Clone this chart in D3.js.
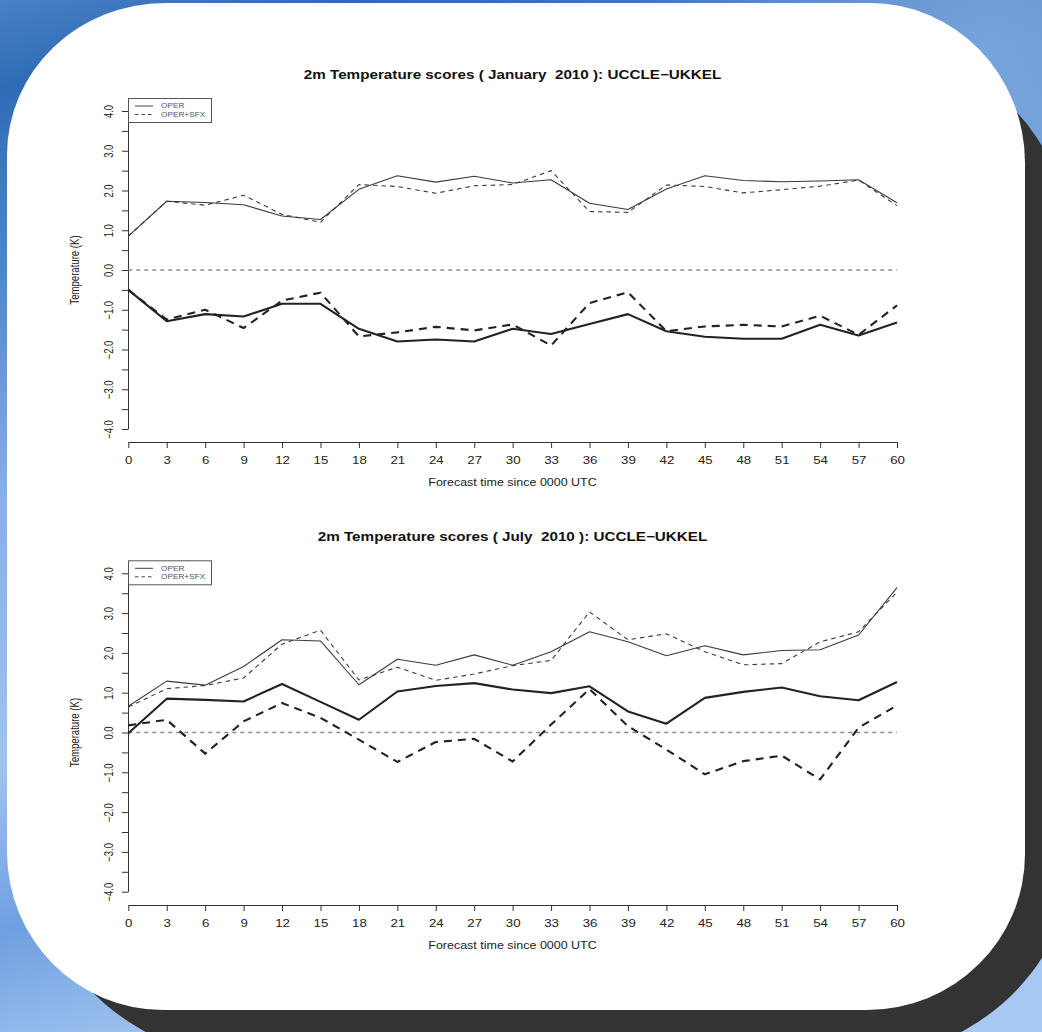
<!DOCTYPE html>
<html><head><meta charset="utf-8">
<script src="https://cdn.jsdelivr.net/npm/d3@7"></script>
<style>
html,body{margin:0;padding:0;background:#5d8fd0;overflow:hidden;}
svg{display:block;}
text{font-family:"Liberation Sans",Arial,Helvetica,sans-serif;}
</style>
</head><body>
<svg id="c" width="1042" height="1032"></svg>
<script>
// ---------------- data ----------------
const hours = [0,3,6,9,12,15,18,21,24,27,30,33,36,39,42,45,48,51,54,57,60];
const yTickValues = [-4,-3.5,-3,-2.5,-2,-1.5,-1,-0.5,0,0.5,1,1.5,2,2.5,3,3.5,4];
const seriesNames = ["OPER","OPER+SFX"];
const titles = ["2m Temperature scores ( January  2010 ): UCCLE\u2212UKKEL",
                "2m Temperature scores ( July  2010 ): UCCLE\u2212UKKEL"];
const xAxisTitle = "Forecast time since 0000 UTC";
const yAxisTitle = "Temperature (K)";

// January 2010 – upper (RMSE-like) curves
const janOperUpper = [0.85,1.73,1.70,1.64,1.36,1.27,2.03,2.37,2.21,2.36,2.19,2.27,1.68,1.52,2.04,2.37,2.25,2.22,2.24,2.27,1.69];
const janSfxUpper  = [0.85,1.73,1.63,1.88,1.40,1.20,2.15,2.10,1.93,2.12,2.15,2.50,1.47,1.45,2.14,2.10,1.94,2.02,2.11,2.26,1.62];
// January 2010 – lower (bias) curves
const janOperLower = [-0.50,-1.29,-1.11,-1.17,-0.85,-0.85,-1.48,-1.80,-1.75,-1.80,-1.48,-1.61,-1.36,-1.11,-1.54,-1.68,-1.73,-1.73,-1.38,-1.65,-1.32];
const janSfxLower  = [-0.50,-1.25,-1.00,-1.46,-0.77,-0.57,-1.67,-1.57,-1.43,-1.52,-1.37,-1.90,-0.83,-0.56,-1.54,-1.42,-1.38,-1.42,-1.15,-1.63,-0.89];

// July 2010
const julOperUpper = [0.66,1.29,1.19,1.66,2.33,2.30,1.20,1.84,1.69,1.95,1.69,2.03,2.53,2.28,1.93,2.18,1.95,2.06,2.08,2.45,3.64];
const julSfxUpper  = [0.64,1.10,1.18,1.37,2.22,2.57,1.32,1.64,1.31,1.47,1.68,1.81,3.03,2.33,2.48,2.03,1.70,1.73,2.28,2.53,3.53];
const julOperLower = [-0.02,0.85,0.82,0.78,1.22,0.77,0.32,1.03,1.17,1.24,1.08,0.99,1.16,0.53,0.22,0.87,1.02,1.13,0.91,0.81,1.27];
const julSfxLower  = [0.18,0.32,-0.53,0.28,0.74,0.37,-0.18,-0.74,-0.24,-0.16,-0.73,0.20,1.09,0.16,-0.43,-1.05,-0.72,-0.58,-1.18,0.12,0.68];

// ---------------- drawing ----------------
const svg = d3.select("#c");
const W = 1042, H = 1032;
const SX = 1.25; // horizontal text stretch of the original picture

// background
const defs = svg.append("defs");
const bg = defs.append("linearGradient").attr("id","bg").attr("x1",0).attr("y1",0).attr("x2",0.25).attr("y2",1);
[["0%","#4a80c6"],["8%","#2f6cb6"],["25%","#4f86cc"],["45%","#86b0e6"],["70%","#9ec3f0"],["85%","#6f9fe0"],["100%","#a6c8f2"]]
  .forEach(([o,c]) => bg.append("stop").attr("offset",o).attr("stop-color",c));
const rg = defs.append("radialGradient").attr("id","rg").attr("cx",0.95).attr("cy",0.05).attr("r",0.35);
rg.append("stop").attr("offset","0%").attr("stop-color","#7aa6dc").attr("stop-opacity",0.9);
rg.append("stop").attr("offset","100%").attr("stop-color","#7aa6dc").attr("stop-opacity",0);
svg.append("rect").attr("width",W).attr("height",H).attr("fill","url(#bg)");
svg.append("rect").attr("width",W).attr("height",H).attr("fill","url(#rg)");

function roundedPath(x0,y0,x1,y1,tl,tr,br,bl){
  return `M${x0+tl[0]},${y0} L${x1-tr[0]},${y0} A${tr[0]},${tr[1]} 0 0 1 ${x1},${y0+tr[1]}`+
         ` L${x1},${y1-br[1]} A${br[0]},${br[1]} 0 0 1 ${x1-br[0]},${y1}`+
         ` L${x0+bl[0]},${y1} A${bl[0]},${bl[1]} 0 0 1 ${x0},${y1-bl[1]}`+
         ` L${x0},${y0+tl[1]} A${tl[0]},${tl[1]} 0 0 1 ${x0+tl[0]},${y0} Z`;
}
// shadow
svg.append("path")
  .attr("d", roundedPath(37,48,1070,1062,[200,200],[200,200],[230,200],[230,200]))
  .attr("fill","#333333");
// white card
svg.append("path")
  .attr("d", roundedPath(7,3,1025,1010,[158,152],[155,160],[158,156],[156,158]))
  .attr("fill","#ffffff");

const x = d3.scaleLinear().domain([0,60]).range([128.3,897]);
const fmt = d => (d < 0 ? "\u2212" : "") + Math.abs(d).toFixed(1);

function panel(cfg){
  const y = d3.scaleLinear().domain([-4,4]).range([cfg.yBottom, cfg.yTop]);
  const g = svg.append("g");

  // title
  g.append("text")
    .attr("transform",`translate(512.5,${cfg.yTop-32}) scale(${SX},1)`)
    .attr("text-anchor","middle").attr("font-weight","bold").attr("font-size",12.2)
    .attr("fill","#111").style("white-space","pre").text(cfg.title);

  // y axis
  const ya = g.append("g").attr("transform","translate(128,0)")
    .call(d3.axisLeft(y).tickValues(yTickValues).tickSize(6).tickSizeOuter(0)
      .tickFormat(d => Number.isInteger(d) ? fmt(d) : ""));
  ya.selectAll(".domain, line").attr("stroke","#333");
  ya.selectAll("text").attr("x",0).attr("dy",0).attr("text-anchor","middle")
    .attr("font-size",9.5).attr("fill","#222")
    .attr("transform",`translate(-15,0) scale(${SX},1) rotate(-90)`);

  // x axis
  const xa = g.append("g").attr("transform",`translate(0,${cfg.xAxisY})`)
    .call(d3.axisBottom(x).tickValues(hours).tickSize(6).tickSizeOuter(0).tickPadding(8)
      .tickFormat(d => String(d)));
  xa.selectAll(".domain, line").attr("stroke","#333");
  xa.selectAll("text").attr("font-size",10.6).attr("fill","#222")
    .attr("transform",`scale(${SX},1)`);

  // axis titles
  g.append("text")
    .attr("transform",`translate(512.5,${cfg.xAxisY+44}) scale(${SX},1)`)
    .attr("text-anchor","middle").attr("font-size",10).attr("fill","#222").text(xAxisTitle);
  g.append("text")
    .attr("transform",`translate(79,${y(0)}) scale(${SX},1) rotate(-90)`)
    .attr("text-anchor","middle").attr("font-size",9.6).attr("fill","#222").text(yAxisTitle);

  // zero line
  g.append("line").attr("x1",x(0)).attr("x2",x(60)).attr("y1",y(0)).attr("y2",y(0))
    .attr("stroke","#8a8a8a").attr("stroke-width",1.4).attr("stroke-dasharray","4,4");

  const line = vals => d3.line().x((d,i)=>x(hours[i])).y(d=>y(d))(vals);
  const styles = [
    {v:cfg.operUpper, w:1.1, c:"#3a3a3a", dash:null},
    {v:cfg.sfxUpper,  w:1.1, c:"#3a3a3a", dash:"4.5,4"},
    {v:cfg.operLower, w:2.1, c:"#222",    dash:null},
    {v:cfg.sfxLower,  w:2.1, c:"#222",    dash:"8,6"}
  ];
  styles.forEach(s => g.append("path").attr("d",line(s.v)).attr("fill","none")
    .attr("stroke",s.c).attr("stroke-width",s.w).attr("stroke-linejoin","round")
    .attr("stroke-dasharray",s.dash));

  // legend
  const ly = y(4) - 13;
  const lg = g.append("g").attr("transform",`translate(128,${ly})`);
  lg.append("rect").attr("x",0.5).attr("y",0.5).attr("width",83).attr("height",24)
    .attr("fill","#fff").attr("stroke","#555").attr("stroke-width",1);
  seriesNames.forEach((n,i) => {
    const yy = 8 + i*8.5;
    lg.append("line").attr("x1",7).attr("x2",25).attr("y1",yy).attr("y2",yy)
      .attr("stroke","#444").attr("stroke-width",1).attr("stroke-dasharray", i ? "3.5,3" : null);
    lg.append("text").attr("transform",`translate(33,${yy+2.3}) scale(${SX},1)`)
      .attr("font-size",6.6).attr("fill","#555").text(n);
  });
}

panel({title:titles[0], yTop:111, yBottom:429, xAxisY:442,
       operUpper:janOperUpper, sfxUpper:janSfxUpper, operLower:janOperLower, sfxLower:janSfxLower});
panel({title:titles[1], yTop:573.3, yBottom:891.7, xAxisY:905,
       operUpper:julOperUpper, sfxUpper:julSfxUpper, operLower:julOperLower, sfxLower:julSfxLower});
</script>
</body></html>
